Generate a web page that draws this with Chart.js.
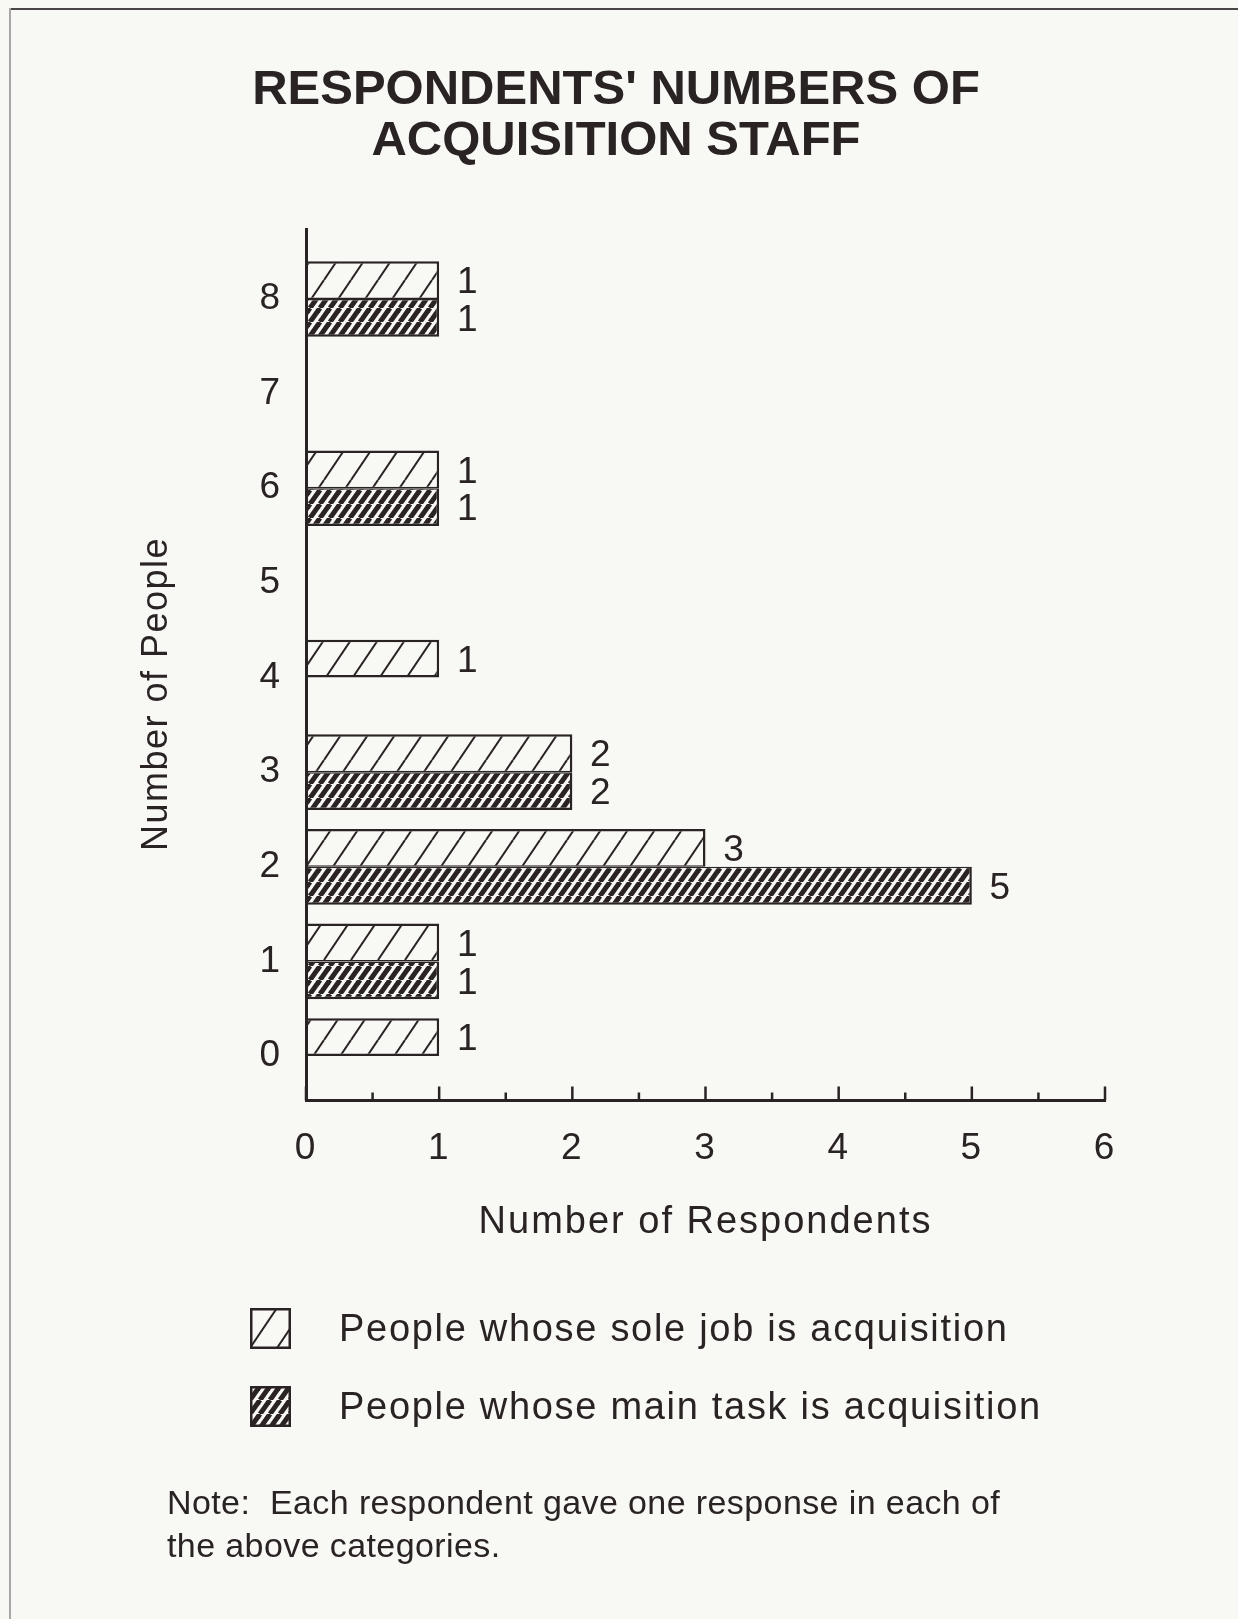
<!DOCTYPE html>
<html lang="en">
<head>
<meta charset="utf-8">
<title>Respondents' Numbers of Acquisition Staff</title>
<script src="https://cdn.jsdelivr.net/npm/chart.js"></script>
<style>
  body { margin: 0; background: #f8f8f5; color: #2a2324; font-family: "Liberation Sans", Arial, Helvetica, sans-serif; }
  .page { position: relative; width: 1238px; height: 1619px; overflow: hidden; }
  .frame-top { position: absolute; left: 9px; right: 0; top: 8px; height: 2px; background: #4a4546; }
  .frame-left { position: absolute; left: 9px; top: 8px; bottom: 0; width: 2px; background: #aaa5a7; }
  .chart-wrap { position: absolute; left: 0; top: 0; width: 1238px; height: 1619px; }
  h1 { position: absolute; left: 0; top: 62px; width: 1232px; margin: 0; text-align: center; font-size: 49px; line-height: 51px; font-weight: bold; }
  .legend { position: absolute; left: 250px; top: 1308px; }
  .legend-item { display: flex; align-items: center; height: 40px; margin-bottom: 38px; }
  .legend-item canvas { width: 41px; height: 41px; margin-right: 48px; }
  .legend-item span { font-size: 38px; line-height: 40px; letter-spacing: 1.7px; white-space: nowrap; }
  .note { position: absolute; left: 167px; top: 1481px; margin: 0; font-size: 34px; line-height: 43px; letter-spacing: 0.4px; }
</style>
</head>
<body>
<div class="page">
  <div class="frame-top"></div>
  <div class="frame-left"></div>
  <div class="chart-wrap"><canvas id="staffChart"></canvas></div>
  <h1>RESPONDENTS' NUMBERS OF<br>ACQUISITION STAFF</h1>
  <div class="legend">
    <div class="legend-item"><canvas width="41" height="41" class="legend-box"></canvas><span></span></div>
    <div class="legend-item"><canvas width="41" height="41" class="legend-box"></canvas><span></span></div>
  </div>
  <p class="note">Note:&nbsp; Each respondent gave one response in each of<br>the above categories.</p>
</div>

<script>
// Number of people on staff (y axis)
const people = [0, 1, 2, 3, 4, 5, 6, 7, 8];
// Number of respondents per staff size
const soleJob = [1, 1, 3, 2, 1, 0, 1, 0, 1];
const mainTask = [0, 1, 5, 2, 0, 0, 1, 0, 1];
const seriesNames = ['People whose sole job is acquisition', 'People whose main task is acquisition'];

const INK = '#2a2324';
const PAPER = '#f8f8f5';
const FONT = '"Liberation Sans", Arial, Helvetica, sans-serif';

document.addEventListener('DOMContentLoaded', () => {
    Chart.defaults.font.family = FONT;
    Chart.defaults.color = INK;

    // diagonal hatch tiles for the two series
    function hatchTile(w, h, lineWidth) {
        const tile = document.createElement('canvas');
        tile.width = w;
        tile.height = h;
        const g = tile.getContext('2d');
        g.fillStyle = PAPER;
        g.fillRect(0, 0, w, h);
        g.strokeStyle = INK;
        g.lineWidth = lineWidth;
        for (let k = -1; k <= 1; k++) {
            g.beginPath();
            g.moveTo(k * w, h);
            g.lineTo(k * w + w, 0);
            g.stroke();
        }
        return tile;
    }
    const tiles = [hatchTile(27, 40, 2), hatchTile(10, 14, 5)];

    function barBorder(c, series) {
        const v = c.raw ? c.raw.x : 0;
        if (!v) return 0;
        const other = series === 0 ? mainTask : soleJob;
        const inner = other[c.dataIndex] ? 1.5 : 2.5;
        return series === 0
            ? { top: 2.5, right: 2.5, bottom: inner, left: 0 }
            : { top: inner, right: 2.5, bottom: 2.5, left: 0 };
    }

    const staffDecor = {
        id: 'staffDecor',
        beforeDraw(chart) {
            chart.ctx.letterSpacing = '2px';
        },
        afterDatasetsDraw(chart) {
            const ctx = chart.ctx;
            ctx.save();
            ctx.font = '37px ' + FONT;
            ctx.fillStyle = INK;
            ctx.textAlign = 'center';
            ctx.textBaseline = 'middle';
            chart.data.datasets.forEach((ds, i) => {
                chart.getDatasetMeta(i).data.forEach((bar, j) => {
                    const v = ds.data[j].x;
                    if (v) ctx.fillText(v, bar.x + 29, bar.y + 3);
                });
            });
            ctx.restore();
        },
        afterDraw(chart) {
            const ctx = chart.ctx;
            const xs = chart.scales.x;
            ctx.save();
            // tick marks point up into the plot
            ctx.strokeStyle = INK;
            ctx.lineWidth = 2.5;
            xs.ticks.forEach(t => {
                const px = xs.getPixelForValue(t.value);
                const len = Number.isInteger(t.value) ? 14 : 8;
                ctx.beginPath();
                ctx.moveTo(px, xs.top);
                ctx.lineTo(px, xs.top - len);
                ctx.stroke();
            });
            // y axis title
            ctx.letterSpacing = '1.5px';
            ctx.font = '36px ' + FONT;
            ctx.fillStyle = INK;
            ctx.textAlign = 'center';
            ctx.textBaseline = 'middle';
            ctx.translate(157, 694);
            ctx.rotate(-Math.PI / 2);
            ctx.fillText('Number of People', 0, 0);
            ctx.restore();
        }
    };

    const canvas = document.getElementById('staffChart');
    const chartCtx = canvas.getContext('2d');

    new Chart(canvas, {
        type: 'bar',
        data: {
            datasets: [
                {
                    label: seriesNames[0],
                    data: people.map((p, i) => ({ x: soleJob[i], y: p })),
                    backgroundColor: chartCtx.createPattern(tiles[0], 'repeat'),
                    borderColor: INK,
                    borderWidth: c => barBorder(c, 0)
                },
                {
                    label: seriesNames[1],
                    data: people.map((p, i) => ({ x: mainTask[i], y: p })),
                    backgroundColor: chartCtx.createPattern(tiles[1], 'repeat'),
                    borderColor: INK,
                    borderWidth: c => barBorder(c, 1)
                }
            ]
        },
        options: {
            indexAxis: 'y',
            responsive: true,
            maintainAspectRatio: false,
            animation: false,
            layout: { padding: { top: 229, right: 133, bottom: 363.5, left: 0 } },
            datasets: { bar: { categoryPercentage: 0.8, barPercentage: 1.0 } },
            scales: {
                x: {
                    type: 'linear',
                    position: 'bottom',
                    min: 0,
                    max: 6,
                    grid: { display: false },
                    border: { display: true, width: 3, color: INK, z: 1 },
                    ticks: {
                        stepSize: 0.5,
                        autoSkip: false,
                        maxRotation: 0,
                        padding: 18,
                        color: INK,
                        font: { size: 37 },
                        callback: v => Number.isInteger(v) ? v : ''
                    },
                    title: {
                        display: true,
                        text: 'Number of Respondents',
                        color: INK,
                        font: { size: 38 },
                        padding: { top: 0, bottom: 10 }
                    },
                    afterFit: s => { s.height = 155; }
                },
                y: {
                    type: 'linear',
                    position: 'left',
                    min: -0.47,
                    max: 8.74,
                    offset: false,
                    grid: { display: false },
                    border: { display: true, width: 3, color: INK, z: 1 },
                    ticks: { autoSkip: false, padding: 16, color: INK, font: { size: 37 } },
                    afterBuildTicks: s => { s.ticks = people.map(v => ({ value: v })); },
                    afterFit: s => { s.width = 306; }
                }
            },
            plugins: {
                legend: { display: false },
                tooltip: { enabled: false }
            }
        },
        plugins: [staffDecor]
    });

    // legend swatches use the same hatch tiles
    document.querySelectorAll('.legend-item').forEach((item, i) => {
        const box = item.querySelector('canvas');
        const g = box.getContext('2d');
        g.fillStyle = g.createPattern(tiles[i], 'repeat');
        g.fillRect(0, 0, box.width, box.height);
        g.strokeStyle = INK;
        g.lineWidth = 2.5;
        g.strokeRect(1.25, 1.25, box.width - 2.5, box.height - 2.5);
        item.querySelector('span').textContent = seriesNames[i];
    });
});
</script>
</body>
</html>
